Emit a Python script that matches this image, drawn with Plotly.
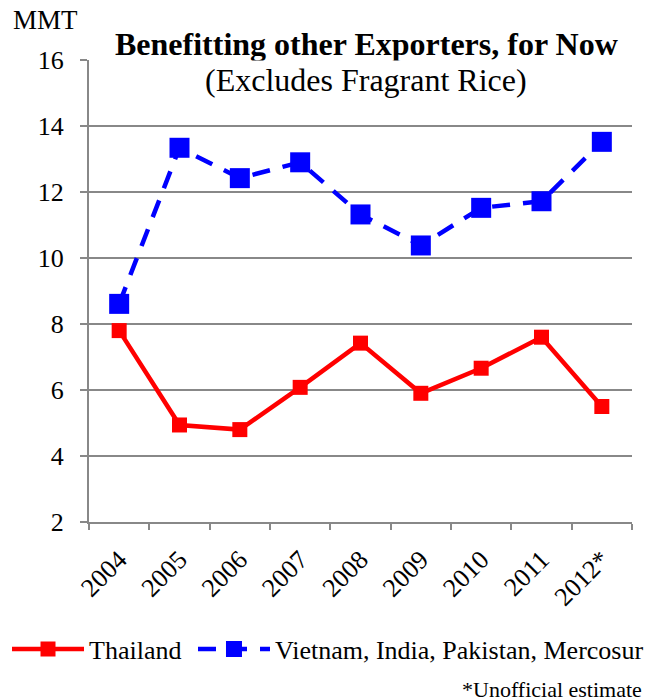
import plotly.graph_objects as go

years = ["2004", "2005", "2006", "2007", "2008", "2009", "2010", "2011", "2012*"]
thailand = [7.8, 4.94, 4.8, 6.08, 7.42, 5.9, 6.66, 7.6, 5.5]
others = [8.61, 13.34, 12.42, 12.9, 11.32, 10.38, 11.52, 11.72, 13.52]
y_ticks = [2, 4, 6, 8, 10, 12, 14, 16]

FONT = "Liberation Serif"

fig = go.Figure()
fig.add_trace(go.Scatter(
    x=years, y=thailand, name="Thailand", mode="lines+markers",
    line=dict(color="#FF0000", width=4.5),
    marker=dict(symbol="square", size=15, color="#FF0000"),
    legend="legend",
))
fig.add_trace(go.Scatter(
    x=years, y=others, name="Vietnam, India, Pakistan, Mercosur", mode="lines+markers",
    line=dict(color="#0000FF", width=4.5, dash="18px,13px"),
    marker=dict(symbol="square", size=20, color="#0000FF"),
    legend="legend2",
))

legend_common = dict(orientation="h", xanchor="left", y=-0.275, yanchor="middle",
                     font=dict(family=FONT, size=26), itemwidth=72, tracegroupgap=0,
                     bgcolor="rgba(0,0,0,0)")

fig.update_layout(
    width=665, height=698,
    margin=dict(l=89, r=33, t=60, b=176, autoexpand=False),
    paper_bgcolor="white", plot_bgcolor="white",
    font=dict(family=FONT, size=26, color="black"),
    showlegend=True,
    legend=dict(x=-0.151, **legend_common),
    legend2=dict(x=0.1915, **legend_common),
    xaxis=dict(
        type="category", tickangle=-45, showgrid=False,
        showline=True, linecolor="#888888", linewidth=2,
        ticks="outside", tickson="boundaries", ticklen=6, tickcolor="#888888", tickwidth=2,
        tickfont=dict(family=FONT, size=26), range=[-0.5, 8.5], ticklabelstandoff=10,
    ),
    yaxis=dict(
        range=[2, 16], tickvals=y_ticks, showgrid=True, gridcolor="#888888", gridwidth=2,
        showline=True, linecolor="#888888", linewidth=2,
        ticks="outside", ticklen=7, tickcolor="#888888", tickwidth=2,
        tickfont=dict(family=FONT, size=26), zeroline=False, ticklabelstandoff=11,
    ),
    annotations=[
        dict(text="<b>Benefitting other Exporters, for Now</b>", x=0.511, y=1.0346,
             xref="paper", yref="paper", showarrow=False, xanchor="center", yanchor="middle",
             font=dict(family=FONT, size=32)),
        dict(text="(Excludes Fragrant Rice)", x=0.511, y=0.9567,
             xref="paper", yref="paper", showarrow=False, xanchor="center", yanchor="middle",
             font=dict(family=FONT, size=32), bgcolor="white"),
        dict(text="MMT", x=-0.0792, y=1.0866, xref="paper", yref="paper", showarrow=False,
             xanchor="center", yanchor="middle", font=dict(family=FONT, size=27)),
        dict(text="*Unofficial estimate", x=1.0215, y=-0.3615, xref="paper", yref="paper",
             showarrow=False, xanchor="right", yanchor="middle", font=dict(family=FONT, size=22)),
    ],
)

fig.write_html(
    "out.html",
    config={"displayModeBar": False},
    post_script="document.body.style.margin='0';document.body.style.overflow='hidden';",
)
